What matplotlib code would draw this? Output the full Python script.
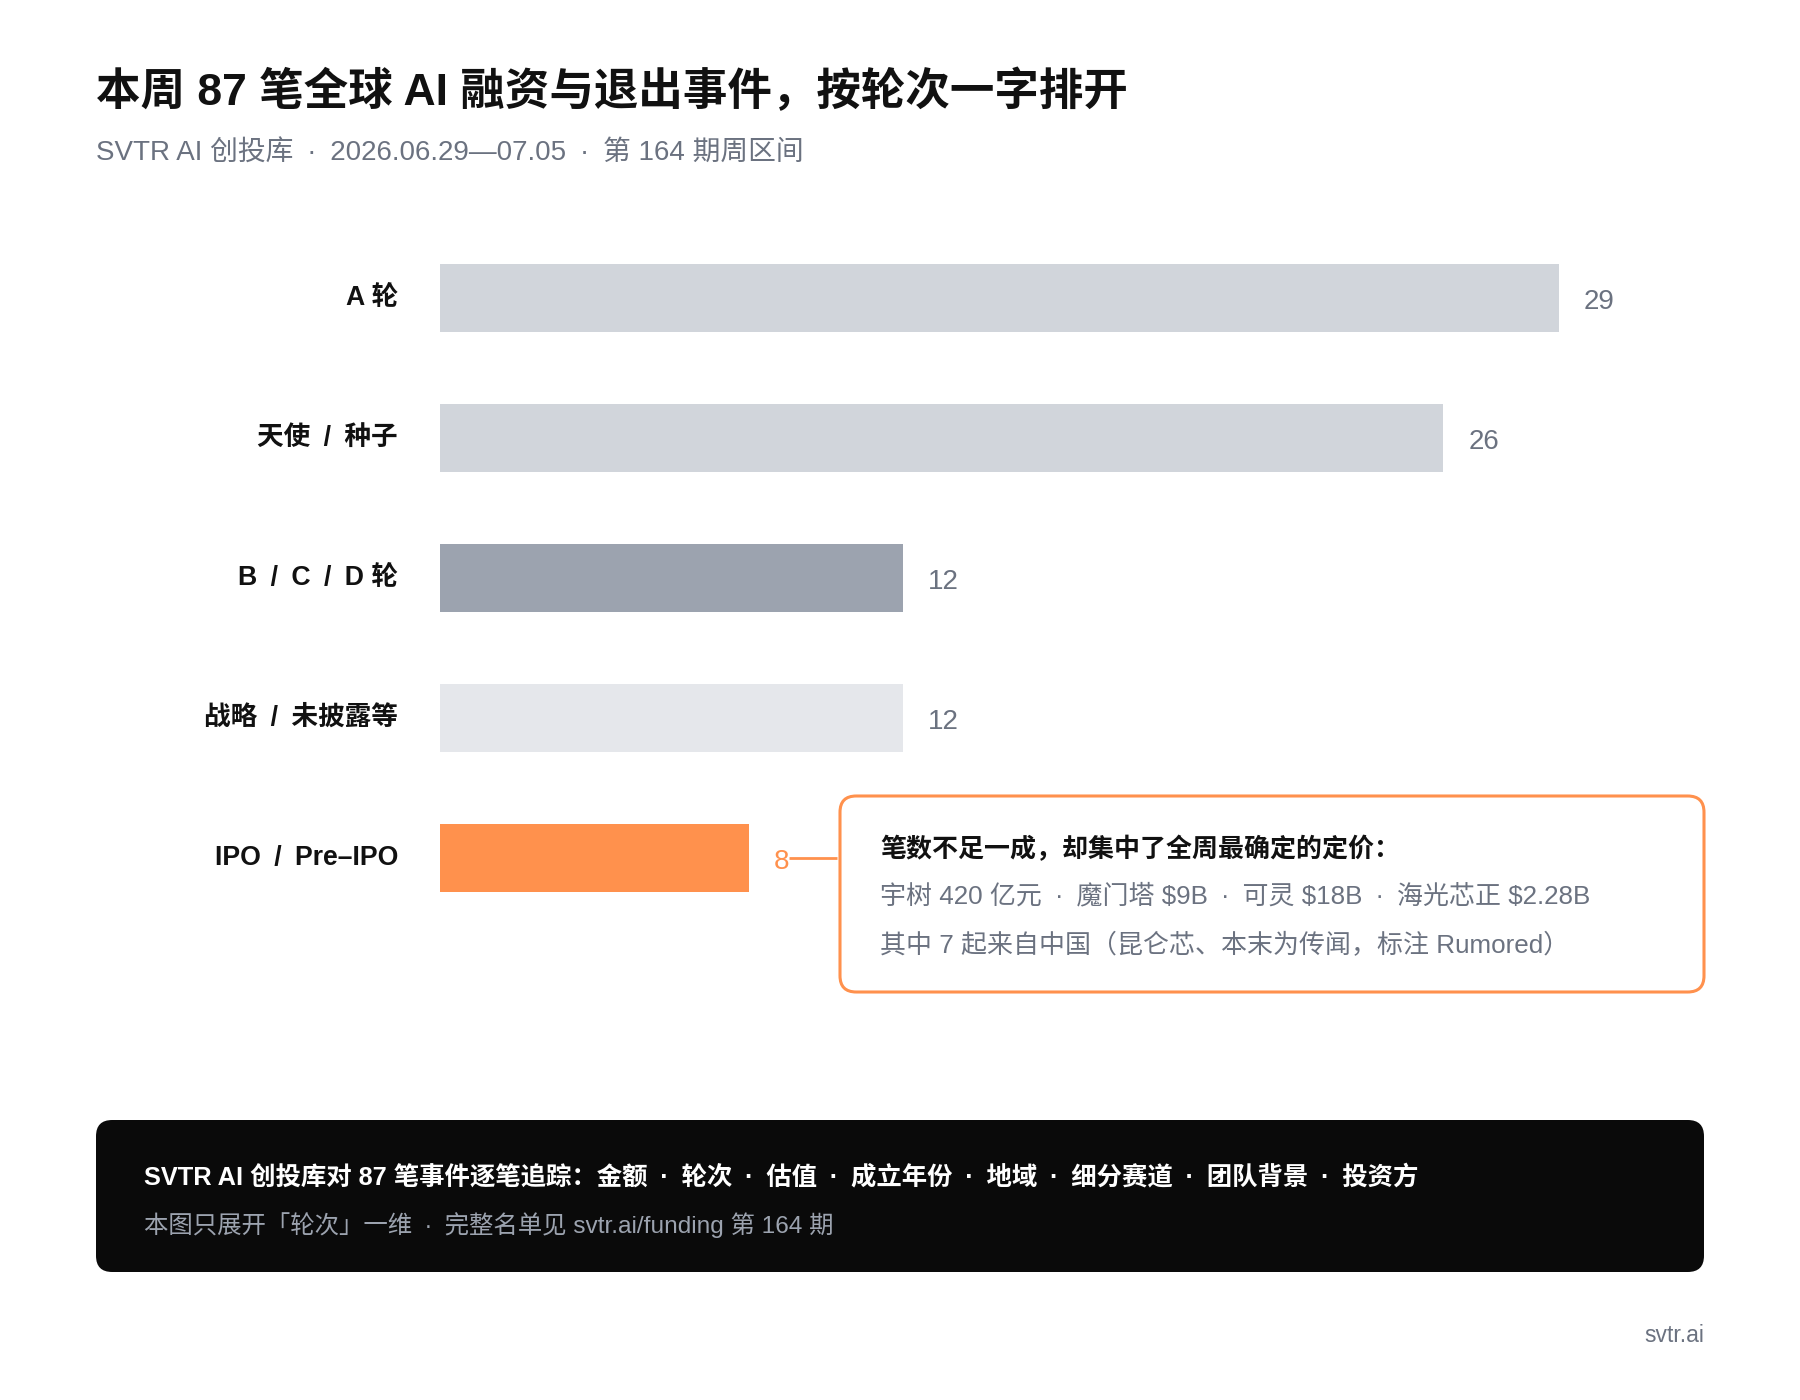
import matplotlib.pyplot as plt
from matplotlib.patches import FancyBboxPatch

plt.rcParams['font.family'] = ['Liberation Sans', 'Noto Sans CJK SC', 'DejaVu Sans']

# en space, used around the slash and the middle dot separators
SP = '\u2002'
DOT = SP + '·' + SP

# %% Data
categories = ['A 轮', '天使' + SP + '/' + SP + '种子', 'B' + SP + '/' + SP + 'C' + SP + '/' + SP + 'D 轮',
              '战略' + SP + '/' + SP + '未披露等', 'IPO' + SP + '/' + SP + 'Pre–IPO']
counts = [29, 26, 12, 12, 8]
bar_colors = ['#d1d5db', '#d1d5db', '#9ca3af', '#e5e7eb', '#ff914d']

title = '本周 87 笔全球 AI 融资与退出事件，按轮次一字排开'
subtitle = 'SVTR AI 创投库' + DOT + '2026.06.29—07.05' + DOT + '第 164 期周区间'
note_head = '笔数不足一成，却集中了全周最确定的定价：'
note_lines = ['宇树 420 亿元' + DOT + '魔门塔 $9B' + DOT + '可灵 $18B' + DOT + '海光芯正 $2.28B',
              '其中 7 起来自中国（昆仑芯、本末为传闻，标注 Rumored）']
footer_items = ['金额', '轮次', '估值', '成立年份', '地域', '细分赛道', '团队背景', '投资方']
footer_head = 'SVTR AI 创投库对 87 笔事件逐笔追踪：' + DOT.join(footer_items)
footer_sub = '本图只展开「轮次」一维' + DOT + '完整名单见 svtr.ai/funding 第 164 期'

orange = '#ff914d'
gray_txt = '#6b7280'

W, H = 1800, 1400


def fx(px):
    return px / W


def fy(py):
    return 1 - py / H


# %% Figure
fig = plt.figure(figsize=(18, 14), dpi=100)
fig.patch.set_facecolor('white')

# bar area: value 0 at x=440px, 38.6 px per unit, rows 140 px apart
px_per_unit = 1119 / 29
ax_left, ax_right = 440, 1704
ax_top, ax_bot = 228, 928
ax = fig.add_axes([fx(ax_left), fy(ax_bot), (ax_right - ax_left) / W, (ax_bot - ax_top) / H])
ax.set_xlim(0, (ax_right - ax_left) / px_per_unit)
ax.set_ylim(len(categories) - 0.5, -0.5)
ax.axis('off')

ypos = list(range(len(categories)))
ax.barh(ypos, counts, height=68 / 140, color=bar_colors, zorder=2)

off = 25 / px_per_unit
for i, (c, v) in enumerate(zip(categories, counts)):
    ax.text(-42 / px_per_unit, i, c, ha='right', va='center', fontsize=19.2,
            fontweight='bold', color='#111111', clip_on=False)
    col = orange if i == len(categories) - 1 else gray_txt
    ax.text(v + off, i + 0.03, str(v), ha='left', va='center', fontsize=20,
            color=col, clip_on=False)

# callout connector from the IPO value to the note box
last = len(categories) - 1
ax.plot([counts[last] + 40 / px_per_unit, counts[last] + 88 / px_per_unit], [last, last],
        color=orange, lw=2, solid_capstyle='butt', clip_on=False)

# note box
box = FancyBboxPatch((fx(840), fy(992)), fx(1704) - fx(840), fy(796) - fy(992),
                     boxstyle='round,pad=0,rounding_size=0.009',
                     transform=fig.transFigure, facecolor='white',
                     edgecolor=orange, lw=2.2, mutation_aspect=W / H)
fig.patches.append(box)
fig.text(fx(880), fy(848.5), note_head, fontsize=18.7, fontweight='bold',
         color='#111111', va='center', ha='left')
fig.text(fx(880), fy(896.5), note_lines[0], fontsize=18.7, color=gray_txt,
         va='center', ha='left')
fig.text(fx(880), fy(945.5), note_lines[1], fontsize=18.7, color=gray_txt,
         va='center', ha='left')

# %% Titles
fig.text(fx(96), fy(92), title, fontsize=32, fontweight='bold', color='#111111',
         va='center', ha='left')
fig.text(fx(96), fy(154), subtitle, fontsize=20, color=gray_txt,
         va='center', ha='left')

# %% Footer block
foot = FancyBboxPatch((fx(96), fy(1272)), fx(1704) - fx(96), fy(1120) - fy(1272),
                      boxstyle='round,pad=0,rounding_size=0.009',
                      transform=fig.transFigure, facecolor='#0a0a0a',
                      edgecolor='none', mutation_aspect=W / H)
fig.patches.append(foot)
fig.text(fx(144), fy(1177), footer_head, fontsize=18.3, fontweight='bold',
         color='white', va='center', ha='left')
fig.text(fx(144), fy(1225), footer_sub, fontsize=17.6, color='#9ca3af',
         va='center', ha='left')

fig.text(fx(1704), fy(1336), 'svtr.ai', fontsize=16.5, color='#6b7280',
         va='center', ha='right')

fig.savefig('out.png', dpi=100, facecolor='white')
